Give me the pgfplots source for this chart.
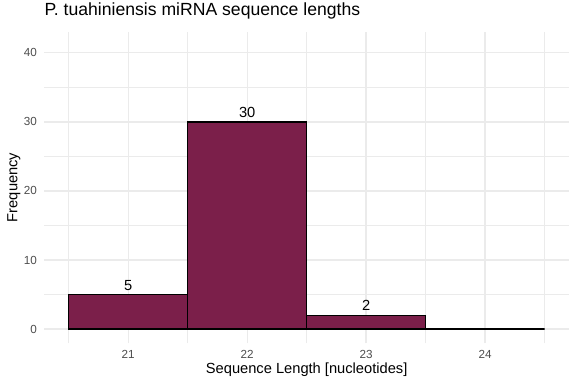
\documentclass[border=0pt]{standalone}
\usepackage{fontspec}
\setmainfont{Liberation Sans}
\usepackage{pgfplots}
\pgfplotsset{compat=1.18}
\definecolor{barfill}{RGB}{123,31,74}
\definecolor{gridc}{RGB}{235,235,235}
\definecolor{tickc}{RGB}{77,77,77}
\begin{document}
\begin{tikzpicture}[x=1pt,y=1pt]
\path[use as bounding box] (0,0) rectangle (576,384);
\begin{axis}[
  at={(44.3pt,40.7pt)}, anchor=south west,
  scale only axis, width=524.7pt, height=311.6pt,
  xmin=20.295, xmax=24.705, ymin=-2.05, ymax=43.05,
  axis line style={draw=none},
  major tick length=0pt, minor tick length=0pt,
  xtick={21,22,23,24}, minor xtick={20.5,21.5,22.5,23.5,24.5},
  ytick={0,10,20,30,40}, minor ytick={5,15,25,35},
  grid=both,
  major grid style={gridc, line width=1.3pt},
  minor grid style={gridc, line width=0.7pt},
  /pgf/number format/assume math mode=true,
  ticklabel style={font=\fontsize{11.7}{13}\selectfont, text=tickc, inner sep=0pt},
  yticklabel style={anchor=east, xshift=-7.3pt},
  xticklabel style={anchor=north, yshift=-6.7pt},
  title={P. tuahiniensis miRNA sequence lengths},
  title style={at={(0,1.0327)}, anchor=base west, inner sep=0pt, font=\fontsize{17.6}{20}\selectfont},
  xlabel={Sequence Length [nucleotides]},
  xlabel style={at={(0.5,-0.0985)}, anchor=base, inner sep=0pt, font=\fontsize{14.67}{16}\selectfont},
  ylabel={Frequency},
  ylabel style={at={(-0.0511,0.5)}, anchor=base, inner sep=0pt, font=\fontsize{14.67}{16}\selectfont},
  clip=false,
]
\addplot[ybar interval, fill=barfill, draw=black, line width=1.4pt]
  coordinates {(20.5,5) (21.5,30) (22.5,2) (23.5,0) (24.5,0)};
\addplot[only marks, mark=none, point meta=explicit symbolic, nodes near coords,
  nodes near coords style={anchor=base, yshift=4.5pt, inner sep=0pt, text=black, font=\fontsize{14.67}{16}\selectfont}]
  coordinates {(21,5) [5] (22,30) [30] (23,2) [2]};
\end{axis}
\end{tikzpicture}
\end{document}
